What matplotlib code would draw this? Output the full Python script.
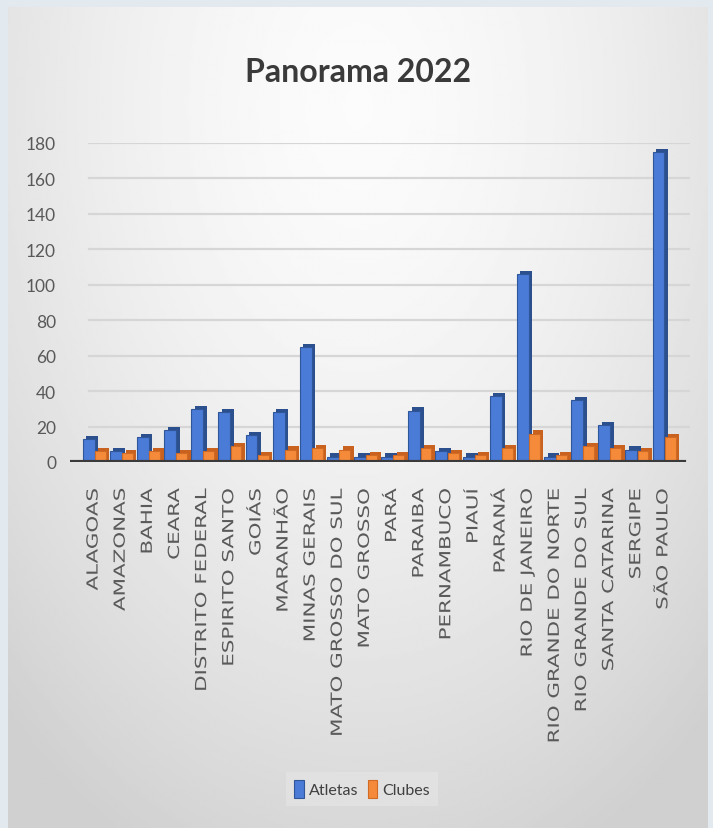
import numpy as np
import matplotlib

matplotlib.use('Agg')
import matplotlib.pyplot as plt
from matplotlib.patheffects import AbstractPathEffect
from matplotlib.transforms import Affine2D

estados = ['ALAGOAS', 'AMAZONAS', 'BAHIA', 'CEARA', 'DISTRITO FEDERAL', 'ESPIRITO SANTO',
           'GOIÁS', 'MARANHÃO', 'MINAS GERAIS', 'MATO GROSSO DO SUL', 'MATO GROSSO', 'PARÁ',
           'PARAIBA', 'PERNAMBUCO', 'PIAUÍ', 'PARANÁ', 'RIO DE JANEIRO', 'RIO GRANDE DO NORTE',
           'RIO GRANDE DO SUL', 'SANTA CATARINA', 'SERGIPE', 'SÃO PAULO']
atletas = [13, 6, 14, 18, 30, 28, 15, 28, 65, 3, 3, 3, 29, 6, 3, 37, 106, 3, 35, 21, 7, 175]
clubes = [6, 5, 6, 5, 6, 9, 4, 7, 8, 7, 4, 4, 8, 5, 4, 8, 16, 4, 9, 8, 6, 14]
yticks = list(range(0, 181, 20))


class Spread(AbstractPathEffect):
    # widen the text along its baseline, keeping the end of the string fixed
    def __init__(self, sx):
        super().__init__()
        self.sx = sx

    def draw_path(self, renderer, gc, tpath, affine, rgbFace=None):
        end = tpath.get_extents().x1
        local = Affine2D().translate(-end, 0).scale(self.sx, 1).translate(end, 0)
        renderer.draw_path(gc, tpath, local + affine, rgbFace)


W, H = 713, 829
fig = plt.figure(figsize=(W / 100, H / 100), dpi=100)
fig.patch.set_facecolor('#e2e9ef')

# gradient background of the chart area
bg = fig.add_axes([8 / W, 0, 700 / W, 821 / H])
yy, xx = np.mgrid[0:1:300j, 0:1:300j]
r = np.sqrt(((xx - 0.5) / 0.75) ** 2 + ((yy - 0.12) / 1.0) ** 2)
r = np.clip(r, 0, 1)
col = 0.985 - 0.17 * r ** 1.6
bg.imshow(col, cmap='gray', vmin=0, vmax=1, aspect='auto', extent=[0, 1, 0, 1])
bg.set_axis_off()

fig.text(358 / W, 1 - 73 / H, 'Panorama 2022', ha='center', va='center',
         fontsize=23, family='Lato', weight='bold', color='#3a3a3a')

# plot area
x0, x1 = 70, 690
ytop, ybot = 144, 463
ax = fig.add_axes([x0 / W, 1 - ybot / H, (x1 - x0) / W, (ybot - ytop) / H])
ax.patch.set_alpha(0)
x = np.arange(len(estados))
ax.set_xlim(-0.85, 22.0)
ax.set_ylim(0, 180)

# depth faces (fake 3d), then front faces
dx, dh = 0.13, 1.8
ax.bar(x - 0.16 + dx, np.array(atletas) + dh, width=0.44, color='#2c4f8e', linewidth=0, zorder=2)
ax.bar(x - 0.16, atletas, width=0.44, color='#4a7bd6', edgecolor='#30569a', linewidth=0.8, zorder=3,
       label='Atletas')
ax.bar(x + 0.27 + dx, np.array(clubes) + dh, width=0.40, color='#c9621f', linewidth=0, zorder=4)
ax.bar(x + 0.27, clubes, width=0.40, color='#f58b3a', edgecolor='#d06a25', linewidth=0.8, zorder=5,
       label='Clubes')

ax.set_yticks(yticks)
ax.set_yticklabels([str(v) for v in yticks], family='Lato', fontsize=12.5, color='#595959')
ax.tick_params(axis='y', length=0, pad=10)
for v in yticks[1:]:
    ax.axhline(v, xmin=0.03, xmax=1.0, color='#d6d6d6', lw=1.6, zorder=1)
ax.axhline(0, xmin=0.0, xmax=0.99, color='#3a3a3a', lw=3, zorder=6)

ax.set_xticks(x)
ax.set_xticklabels(estados, rotation=90, fontfamily='DejaVu Sans', fontsize=11, color='#5a5a5a')
ax.tick_params(axis='x', length=0, pad=19)
for t in ax.get_xticklabels():
    t.set_path_effects([Spread(1.4)])
for s in ax.spines.values():
    s.set_visible(False)

leg = ax.legend(loc='center', bbox_to_anchor=(362 / W, 1 - 790 / H), bbox_transform=fig.transFigure,
                ncol=2, frameon=True, fancybox=False, handlelength=0.6, handleheight=1.3,
                handletextpad=0.3, columnspacing=0.6, borderpad=0.5,
                prop={'family': 'Lato', 'size': 11.5})
leg.get_frame().set_facecolor('#e6e6e6')
leg.get_frame().set_edgecolor('none')
leg.get_frame().set_alpha(0.6)
for t in leg.get_texts():
    t.set_color('#404040')

fig.savefig('out.png', dpi=100)
